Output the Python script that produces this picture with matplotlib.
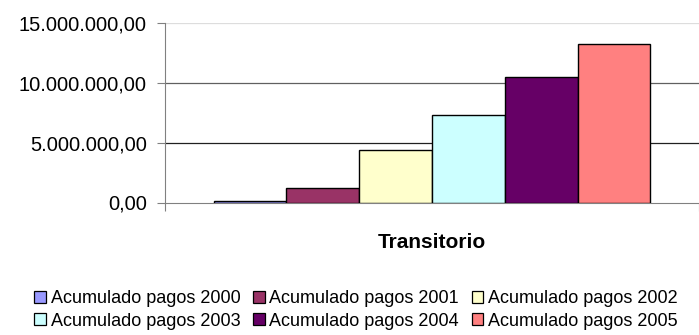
import matplotlib
matplotlib.use("Agg")
import matplotlib.pyplot as plt
from matplotlib.patches import Patch
from matplotlib.ticker import FuncFormatter

plt.rcParams['font.family'] = ['Liberation Sans', 'DejaVu Sans']

# Cumulative payments per year, single category
category = 'Transitorio'
series_labels = ['Acumulado pagos 2000', 'Acumulado pagos 2001', 'Acumulado pagos 2002',
                 'Acumulado pagos 2003', 'Acumulado pagos 2004', 'Acumulado pagos 2005']
values = [140000, 1240000, 4430000, 7290000, 10510000, 13240000]
colors = ['#9999ff', '#993366', '#ffffcc', '#ccffff', '#660066', '#ff8080']


def es_format(v, pos=None):
    s = f"{v:,.2f}"
    return s.replace(',', '#').replace('.', ',').replace('#', '.')


fig = plt.figure(figsize=(6.99, 3.35), dpi=100)
ax = fig.add_axes([165 / 699, 1 - 202.5 / 335, 534 / 699, 179.2 / 335])

group_width = 0.818
n = len(values)
bar_w = group_width / n
for i, (v, c) in enumerate(zip(values, colors)):
    x = -group_width / 2 + bar_w * (i + 0.5)
    ax.bar(x, v, width=bar_w, color=c, edgecolor='black', linewidth=1.0, zorder=3)

ax.set_xlim(-0.5, 0.5)
ax.set_ylim(0, 15000000)
ax.set_yticks([0, 5000000, 10000000, 15000000])
ax.yaxis.set_major_formatter(FuncFormatter(es_format))
ax.tick_params(axis='y', labelsize=14.5, length=6, width=0.8, color='#808080', pad=7)

# gridlines
for y, col in [(5000000, '#202020'), (10000000, '#606060'), (15000000, '#dddddd')]:
    ax.axhline(y, color=col, linewidth=0.9, zorder=1)

ax.set_xticks([-0.5, 0.5])
ax.set_xticklabels(['', ''])
ax.tick_params(axis='x', which='major', length=6, width=0.8, color='#808080')
ax.set_xticks([0], minor=True)
ax.set_xticklabels([category], minor=True, fontsize=15, fontweight='bold')
ax.tick_params(axis='x', which='minor', length=0, pad=22)

for side in ['top', 'right']:
    ax.spines[side].set_visible(False)
ax.spines['left'].set_color('#808080')
ax.spines['bottom'].set_color('#808080')
ax.spines['left'].set_linewidth(0.8)
ax.spines['bottom'].set_linewidth(0.8)

# legend filled row by row: reorder for matplotlib's column-wise layout
ncol = 3
nrow = 2
order = [r * ncol + c for c in range(ncol) for r in range(nrow)]
handles = [Patch(facecolor=colors[i], edgecolor='black', linewidth=0.9) for i in order]
labels = [series_labels[i] for i in order]
fig.legend(handles, labels, ncol=ncol, loc='center',
           bbox_to_anchor=(356 / 699, 1 - 310 / 335), frameon=False,
           fontsize=13, handlelength=0.65, handleheight=0.65, handletextpad=0.25,
           columnspacing=0.7, labelspacing=0.3, borderpad=0)

fig.savefig('out.png', dpi=100)
